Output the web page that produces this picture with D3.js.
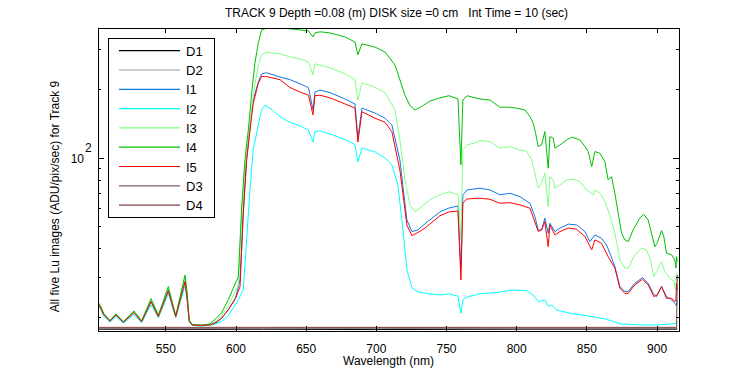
<!DOCTYPE html>
<html lang="en">
<head>
<meta charset="UTF-8">
<title>Track 9 Lu images</title>
<script src="https://cdn.jsdelivr.net/npm/d3@7"></script>
<style>
    html, body { margin: 0; background: #fff; overflow: hidden; }
    text { font-family: "Liberation Sans", Arial, sans-serif; font-size: 12px; fill: #000; }
</style>
</head>
<body>
<svg id="svg"></svg>
<script>
// series names in plotting / legend order, and their colours
const seriesNames = ['D1', 'D2', 'I1', 'I2', 'I3', 'I4', 'I5', 'D3', 'D4'];
const seriesColors = ['#000000', '#999999', '#1478e6', '#00ffff', '#80ff80', '#00c000', '#ff0000', '#806060', '#804040'];

const xTicks = [550, 600, 650, 700, 750, 800, 850, 900];
const yMajorTicks = [100];
const yMinorTicks = [20, 30, 40, 50, 60, 70, 80, 90, 200, 300];

// [wavelength nm, ADU/pix/sec]
const D1 = [[502, 17.6], [560, 17.55], [620, 17.6], [700, 17.55], [800, 17.6], [914.7, 17.6]];
const D2 = [[502, 17.7], [600, 17.7], [700, 17.75], [800, 17.7], [914.7, 17.7]];
const I1 = [[502, 23.0], [504, 22.0], [506, 20.5], [510.5, 19.2], [514.8, 20.4], [520, 19.0], [527.6, 20.9], [533.1, 19.1], [539.8, 23.3], [545, 20.1], [552.1, 26.0], [557.4, 20.1], [564, 28.7], [565.5, 24.2], [567, 19.2], [569, 18.5], [575, 18.4], [582, 18.5], [586, 18.9], [590.1, 19.7], [594.8, 21.4], [600, 24.2], [603.2, 29.0], [605.5, 57.1], [607.9, 97.7], [610.3, 135], [612.6, 179], [616.2, 215], [618.6, 233], [622, 236], [631.7, 226], [638.8, 220], [646, 211], [652, 203], [655.2, 162], [656.6, 194], [660.2, 198], [667.3, 193], [678, 181], [685.1, 172], [687.2, 122], [690.1, 165], [699.3, 157], [706.5, 149], [711.4, 139], [717.1, 97.7], [722.1, 53.2], [725.7, 47.3], [730, 48.1], [735, 51.2], [745.6, 57.7], [752, 60.0], [758.5, 61.3], [760.6, 32.1], [762, 68.6], [765, 72.1], [774.1, 73.4], [781.3, 72.1], [788.4, 68.6], [795.5, 69.7], [802.6, 67.4], [809.8, 63.0], [813.3, 55.1], [815.7, 48.1], [818.1, 48.1], [820.4, 54.2], [822.8, 46.5], [824, 51.5], [827.6, 47.3], [831.2, 49.0], [837.1, 51.0], [843.1, 50.6], [849, 47.3], [852.5, 42.7], [856.1, 45.7], [860.8, 44.2], [864.4, 41.3], [866.7, 38.0], [870.3, 33.2], [873.9, 27.1], [877.4, 25.8], [879.8, 25.8], [884.5, 28.0], [890, 29.7], [894, 28.0], [897.6, 25.3], [900, 24.5], [903.6, 27.1], [907.1, 24.5], [910.7, 23.7], [913, 22.9], [914.3, 22.3], [914.7, 23.7]];
const I2 = [[502, 22.4], [504, 21.5], [506, 20.1], [510.5, 18.9], [514.8, 20.0], [520, 18.7], [527.6, 20.4], [533.1, 18.8], [539.8, 22.6], [545, 19.8], [552.1, 25.2], [557.4, 19.8], [564, 27.3], [565.5, 23.5], [567, 19.0], [569, 18.3], [575, 18.2], [582, 18.3], [586, 18.6], [590.1, 19.1], [594.8, 20.2], [602, 23.7], [605.5, 26.2], [607.9, 43.5], [610.3, 72.1], [612.6, 108], [616.2, 139], [618.6, 162], [621, 170], [624.5, 165], [631.7, 151], [638.8, 143], [646, 138], [652, 132], [655.2, 117], [656.6, 130], [660.2, 131], [667.3, 127], [678, 120], [685.1, 114], [687.2, 95.7], [690.1, 110], [699.3, 106], [706.5, 99.7], [711.4, 92.9], [715.7, 75.9], [719.3, 48.1], [722.1, 32.1], [725.7, 26.8], [730, 25.7], [738.5, 25.2], [745.6, 24.9], [752, 25.2], [758.5, 24.6], [760.6, 20.7], [762, 23.7], [765, 24.4], [774.1, 25.2], [786, 25.5], [797.9, 26.2], [807.4, 26.0], [812.1, 24.9], [815.7, 23.3], [820.4, 23.7], [822.8, 22.2], [825.2, 22.5], [828.8, 21.4], [838.3, 20.7], [850.2, 20.2], [864.4, 19.5], [873.9, 18.6], [888.1, 18.4], [902.4, 18.4], [914.3, 18.7], [914.7, 19.1]];
const I3 = [[502, 23.0], [504, 22.0], [506, 20.5], [510.5, 19.2], [514.8, 20.5], [520, 19.0], [527.6, 21.0], [533.1, 19.1], [539.8, 23.6], [545, 20.2], [552.1, 26.5], [557.4, 20.1], [564, 29.5], [565.5, 25.0], [567, 19.2], [569, 18.5], [575, 18.4], [582, 18.5], [586, 19.1], [590.1, 20.2], [594.8, 22.3], [602, 27.5], [604.4, 56.0], [606.7, 88.3], [609.1, 120], [611.5, 162], [613.8, 209], [616.2, 255], [618.6, 283], [622, 290], [631.7, 286], [638.8, 277], [646, 271], [652, 263], [655.2, 231], [656.6, 258], [660.2, 255], [667.3, 248], [678, 233], [685.1, 220], [687.2, 179], [690.1, 213], [699.3, 204], [706.5, 193], [713.6, 162], [717.1, 120], [720.7, 79.8], [724.3, 62.0], [727.8, 57.7], [731.4, 60.0], [738.5, 65.2], [745.6, 68.6], [752, 70.7], [758.5, 68.6], [760.6, 43.5], [762, 108], [765, 113.7], [770.6, 116], [774.1, 118.8], [781.3, 117.6], [788.4, 110], [795.5, 111.8], [802.6, 108.1], [807.4, 106.3], [811, 97.7], [813.3, 85.4], [815.7, 73.4], [818.1, 77.2], [820.4, 85.4], [822.8, 60.9], [824, 82.5], [826.4, 79.8], [827.6, 73.4], [831.2, 75.9], [835.9, 79.8], [840.6, 80.4], [845.4, 78.4], [849, 73.4], [854.9, 68.6], [856.1, 72.1], [859.6, 69.7], [863.2, 64.1], [866.7, 56.0], [870.3, 46.5], [873.9, 35.5], [877.4, 32.7], [879.8, 32.7], [884.5, 37.4], [889.3, 40.0], [892.9, 39.3], [895.7, 35.5], [898.1, 30.0], [900, 31.5], [903.6, 34.9], [905.9, 31.5], [909.5, 29.5], [912.5, 28.5], [913.5, 26.2], [914.3, 31.0], [914.7, 29.0]];
const I4 = [[502, 23.2], [504, 22.2], [506, 20.7], [510.5, 19.2], [514.8, 20.6], [520, 19.0], [527.6, 21.2], [533.1, 19.2], [539.8, 24.0], [545, 20.3], [552.1, 27.1], [557.4, 20.2], [564, 30.5], [565.5, 25.5], [567, 19.3], [569, 18.5], [575, 18.3], [581.8, 18.6], [586, 19.6], [590.1, 20.8], [594.8, 23.7], [602, 30.0], [604.4, 60.9], [606.7, 97.7], [609.1, 132], [611.5, 192], [613.8, 260], [616.2, 318], [618.6, 364], [622, 370], [631.7, 371], [638.8, 368], [646, 364], [652, 360], [655.2, 339], [656.6, 353], [660.2, 357], [667.3, 353], [678, 339], [685.1, 322], [687.2, 283], [690.1, 316], [699.3, 306], [706.5, 291], [713.6, 255], [717.1, 220], [720.7, 188], [724.3, 169], [727.8, 162], [731.4, 166], [738.5, 177], [745.6, 183], [752, 187], [758.5, 181], [760.6, 93], [762, 179], [765, 187], [770.6, 183], [774.1, 181], [781.3, 179], [788.4, 166.5], [795.5, 166.5], [800.3, 164.9], [806.2, 162], [809.8, 151.4], [812.1, 141.6], [813.8, 128], [815.7, 111.8], [818.1, 113.7], [820.4, 130.1], [822.8, 89.8], [824, 123.7], [826.4, 121.7], [827.6, 110], [831.2, 113.7], [835.9, 119.6], [839.5, 122.9], [845.4, 119.6], [849, 111.8], [851.3, 106.3], [853.8, 91.3], [856.1, 106.3], [859.6, 104.5], [863.2, 96], [865.5, 79.8], [867.9, 82.5], [870.3, 69.7], [872.7, 56.9], [875.1, 46.5], [877.4, 43.5], [879.8, 42.7], [883.3, 48.1], [888.1, 54.2], [890.9, 56.4], [894, 53.2], [896.4, 46.5], [898.8, 40.6], [900.4, 42.0], [903.6, 47.8], [905.2, 45.0], [907.1, 38.0], [910.7, 37.4], [913, 35.5], [913.8, 32.7], [914.3, 36.7], [914.7, 34.8]];
const I5 = [[502, 22.8], [504, 21.8], [506, 20.4], [510.5, 19.1], [514.8, 20.3], [520, 18.9], [527.6, 20.8], [533.1, 19.0], [539.8, 23.3], [545, 20.0], [552.1, 26.0], [557.4, 20.0], [564, 28.5], [565.5, 24.0], [567, 19.1], [569, 18.4], [575, 18.3], [582, 18.4], [586, 18.8], [590.1, 19.7], [594.8, 21.4], [600, 24.0], [603.2, 27.1], [605.5, 57.0], [607.9, 97.7], [610.3, 132], [612.6, 173], [616.2, 212], [618.6, 227], [622, 227], [631.7, 220], [638.8, 203], [646, 194], [652, 188], [655.2, 154], [656.6, 187], [660.2, 188], [667.3, 183], [678, 172], [685.1, 165], [687.2, 117], [690.1, 159], [699.3, 149], [706.5, 143], [711.4, 130], [717.1, 88.3], [722.1, 50.6], [725.7, 45.4], [730, 46.9], [735, 49.0], [745.6, 55.5], [752, 57.7], [758.5, 58.3], [760.6, 29.0], [762, 63.2], [765, 65.8], [774.1, 66.3], [781.3, 65.6], [788.4, 63.0], [795.5, 63.4], [802.6, 62.0], [809.8, 59.9], [812.8, 53.2], [815.7, 47.3], [818.1, 48.1], [820.4, 52.3], [822.8, 40.6], [824, 50.6], [827.6, 45.7], [831.2, 47.3], [837.1, 49.0], [843.1, 48.4], [849, 45.0], [853.8, 39.3], [856.1, 43.5], [860.8, 42.0], [865.5, 36.7], [870.3, 32.7], [873.9, 26.7], [877.4, 25.3], [879.8, 25.3], [884.5, 27.6], [890, 29.2], [894, 27.6], [898.1, 24.5], [900.4, 24.9], [903.6, 27.1], [907.1, 24.1], [910.7, 24.1], [913, 23.3], [913.8, 23.7], [914.3, 28.0], [914.7, 26.2]];
const D3 = [[502, 17.8], [600, 17.8], [700, 17.85], [800, 17.8], [914.7, 17.8]];
const D4 = [[502, 17.95], [650, 17.95], [800, 17.95], [914.3, 17.95], [914.7, 30.5]];

const allSeries = [D1, D2, I1, I2, I3, I4, I5, D3, D4];

const width = 750, height = 375;
const margin = { top: 28, left: 98, bottom: 44, right: 71 };
const innerWidth = width - margin.left - margin.right;
const innerHeight = height - margin.top - margin.bottom;

const svg = d3.select('#svg').attr('width', width).attr('height', height);
const g = svg.append('g').attr('transform', `translate(${margin.left}, ${margin.top})`);

const x = d3.scaleLinear().domain([502, 916]).range([0, innerWidth]);
const y = d3.scaleLog().domain([17.3, 371]).range([innerHeight, 0]);

g.append('clipPath').attr('id', 'clip')
    .append('rect').attr('width', innerWidth).attr('height', innerHeight);

const line = d3.line().x(d => x(d[0])).y(d => y(d[1]));

g.append('g').attr('clip-path', 'url(#clip)')
    .selectAll('path').data(allSeries).join('path')
    .attr('d', line)
    .attr('fill', 'none')
    .attr('stroke', (d, i) => seriesColors[i])
    .attr('stroke-width', 1);

// axes: ticks pointing inward on all four sides
const axisStyle = sel => {
    sel.select('.domain').remove();
    sel.selectAll('line').attr('stroke', '#000').attr('shape-rendering', 'crispEdges');
};
const noLabels = sel => sel.selectAll('text').remove();

g.append('g').attr('transform', `translate(0, ${innerHeight})`)
    .call(d3.axisBottom(x).tickValues(xTicks).tickSizeInner(-5).tickPadding(13).tickFormat(d3.format('d')))
    .call(axisStyle);
g.append('g')
    .call(d3.axisTop(x).tickValues(xTicks).tickSizeInner(-5))
    .call(axisStyle).call(noLabels);
[d3.axisLeft, d3.axisRight].forEach((ax, k) => {
    const tx = k === 0 ? 0 : innerWidth;
    g.append('g').attr('transform', `translate(${tx}, 0)`)
        .call(ax(y).tickValues(yMajorTicks).tickSizeInner(-6))
        .call(axisStyle).call(noLabels);
    g.append('g').attr('transform', `translate(${tx}, 0)`)
        .call(ax(y).tickValues(yMinorTicks).tickSizeInner(-3))
        .call(axisStyle).call(noLabels);
});

// 10^2 label
yMajorTicks.forEach(v => {
    g.append('text').attr('x', -14).attr('y', y(v) + 5).attr('text-anchor', 'end').text('10');
    g.append('text').attr('x', -13).attr('y', y(v) - 6).text(Math.round(Math.log10(v)));
});

g.append('rect')
    .attr('width', innerWidth).attr('height', innerHeight)
    .attr('fill', 'none').attr('stroke', '#000').attr('shape-rendering', 'crispEdges');

// legend
const legend = g.append('g').attr('transform', 'translate(10, 10)');
legend.append('rect')
    .attr('x', 0.5).attr('y', 0.5).attr('width', 106).attr('height', 179)
    .attr('fill', '#fff').attr('stroke', '#000').attr('shape-rendering', 'crispEdges');
const rows = legend.selectAll('g.row').data(seriesNames).join('g')
    .attr('class', 'row')
    .attr('transform', (d, i) => `translate(0, ${12.7 + i * 19.3})`);
rows.append('line')
    .attr('x1', 11).attr('x2', 72)
    .attr('stroke', (d, i) => seriesColors[i]).attr('stroke-width', 1.2);
rows.append('text').attr('x', 78).attr('y', 5).style('font-size', '13px').text(d => d);

svg.append('text')
    .attr('x', margin.left + innerWidth / 2 + 8).attr('y', 17)
    .attr('text-anchor', 'middle').style('white-space', 'pre')
    .text('TRACK 9 Depth =0.08 (m) DISK size =0 cm   Int Time = 10 (sec)');

svg.append('text')
    .attr('x', margin.left + innerWidth / 2).attr('y', 365)
    .attr('text-anchor', 'middle')
    .text('Wavelength (nm)');

svg.append('text')
    .attr('transform', `translate(59, ${margin.top + innerHeight / 2 + 17}) rotate(-90)`)
    .attr('text-anchor', 'middle')
    .text('All five Lu images (ADU/pix/sec) for Track 9');
</script>
</body>
</html>
